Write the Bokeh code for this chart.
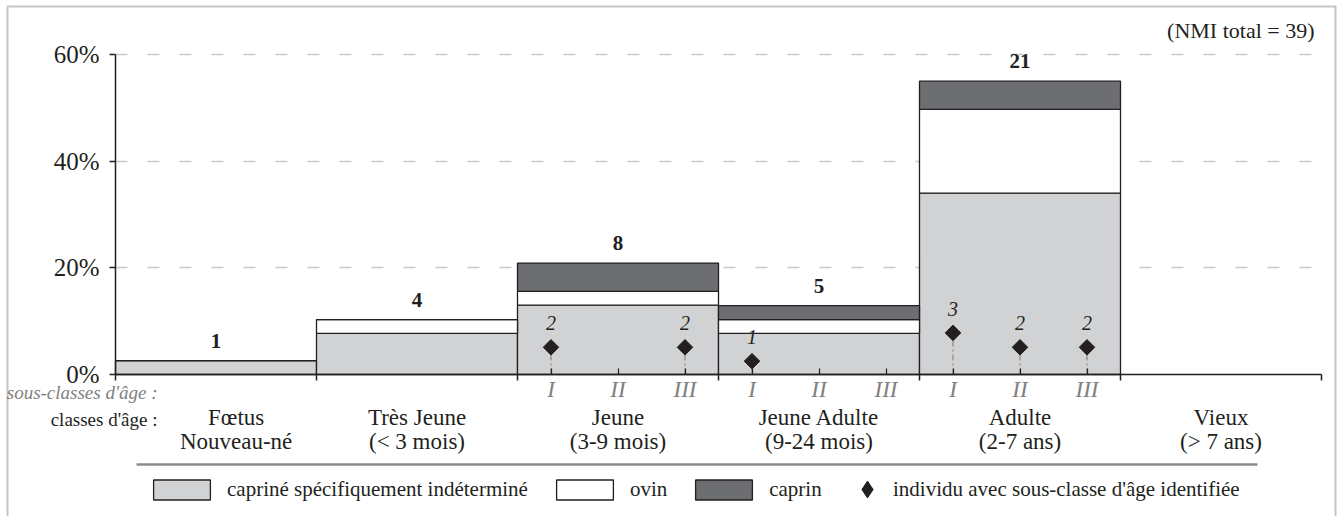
import math
from bokeh.plotting import figure
from bokeh.models import (Range1d, FixedTicker, PrintfTickFormatter, Label, Legend,
                          LegendItem, BoxAnnotation, Arrow, ColumnDataSource)
from bokeh.embed import file_html
from bokeh.resources import INLINE
from bokeh.core.properties import value

# ---------------- data ----------------
classes_line1 = ["Fœtus", "Très Jeune", "Jeune", "Jeune Adulte", "Adulte", "Vieux"]
classes_line2 = ["Nouveau-né", "(< 3 mois)", "(3-9 mois)", "(9-24 mois)", "(2-7 ans)", "(> 7 ans)"]
gray_pct = [2.6, 7.7, 13.0, 7.7, 34.0, 0.0]      # capriné spécifiquement indéterminé
ovin_pct = [0.0, 2.6, 2.6, 2.6, 15.7, 0.0]       # ovin
caprin_pct = [0.0, 0.0, 5.3, 2.6, 5.3, 0.0]      # caprin
class_counts = [1, 4, 8, 5, 21, 0]               # NMI per age class
nmi_total = 39

sub_labels = ["I", "II", "III"]
sub_classes_shown = [2, 3, 4]                    # classes with sub-classes
ind_class = [2, 2, 3, 4, 4, 4]                   # individuals with identified sub-class
ind_sub = [0, 2, 0, 0, 1, 2]
ind_count = [2, 2, 1, 3, 2, 2]
ind_pct = [5.1, 5.1, 2.5, 7.8, 5.1, 5.1]

y_ticks = [0, 20, 40, 60]
grid_ticks = [20, 40, 60]
legend_labels = ["capriné spécifiquement indéterminé", "ovin", "caprin",
                 "individu avec sous-classe d'âge identifiée"]

# ---------------- styling / layout ----------------
FONT = "Liberation Serif"
INK = "#231f20"
GRAY = "#d1d2d4"
DARK = "#6d6e71"
SUBGRAY = "#808080"

W, H = 1340, 516
AX_L, AX_R = 115, 1321            # x-axis extent (px)
AX_B, Y60 = 374, 54               # y of 0 % and 60 % (px)
UNIT = 6                          # x units per age class
NCLS = len(classes_line1)
XPX = (AX_R - AX_L) / (NCLS * UNIT)
YPX = (AX_B - Y60) / 60.0

def dx(px):
    return (px - AX_L) / XPX

def dy(py):
    return (AX_B - py) / YPX

p = figure(width=W, height=H, output_backend="svg", toolbar_location=None,
           x_range=Range1d(dx(0), dx(W)), y_range=Range1d(dy(H), dy(0)),
           min_border_left=0, min_border_right=0, min_border_top=0, min_border_bottom=0)
p.outline_line_color = None
p.background_fill_color = "white"
p.border_fill_color = "white"

# bars (only classes that have individuals)
centers = [UNIT * k + UNIT / 2 for k in range(NCLS)]
totals = [g + o + c for g, o, c in zip(gray_pct, ovin_pct, caprin_pct)]
keep = [k for k in range(NCLS) if totals[k] > 0]
src = ColumnDataSource(dict(x=[centers[k] for k in keep],
                            gray=[gray_pct[k] for k in keep],
                            ovin=[ovin_pct[k] for k in keep],
                            caprin=[caprin_pct[k] for k in keep]))
bars = p.vbar_stack(["gray", "ovin", "caprin"], x="x", width=UNIT, source=src,
                    fill_color=[GRAY, "white", DARK], line_color=INK, line_width=1.3)

# counts above bars
cx = [centers[i] for i in range(NCLS) if class_counts[i] > 0]
cy = [totals[i] for i in range(NCLS) if class_counts[i] > 0]
ct = [str(class_counts[i]) for i in range(NCLS) if class_counts[i] > 0]
p.text(x=cx, y=cy, text=ct, y_offset=-20, text_align="center", text_baseline="alphabetic",
       text_font=value(FONT), text_font_size="21px", text_font_style="bold", text_color=INK)

# individuals with sub-class
ind_x = [UNIT * c + 1 + 2 * s for c, s in zip(ind_class, ind_sub)]
p.segment(x0=ind_x, y0=[0] * len(ind_x), x1=ind_x, y1=ind_pct,
          line_color="#8a8a8a", line_width=1.2, line_dash="6 3 2 3")
p.scatter(x=ind_x, y=ind_pct, marker="square", angle=math.pi / 4, size=11,
          fill_color=INK, line_color=INK)
p.text(x=ind_x, y=ind_pct, text=[str(n) for n in ind_count], y_offset=-24,
       text_align="center", text_baseline="alphabetic", text_font=value(FONT),
       text_font_size="20px", text_font_style="italic", text_color=INK)
# legend glyph for the individuals (a point that is never on screen)
dia_leg = p.scatter(x=[float("nan")], y=[float("nan")], marker="diamond",
                    fill_color=INK, line_color=INK)

# y axis
yax = p.yaxis[0]
yax.fixed_location = 0
yax.ticker = FixedTicker(ticks=y_ticks)
yax.formatter = PrintfTickFormatter(format="%d%%")
yax.bounds = (0, 60)
yax.major_tick_out = 6
yax.major_tick_in = 0
yax.minor_tick_out = 0
yax.minor_tick_in = 0
yax.major_label_standoff = 10
yax.major_label_text_font = FONT
yax.major_label_text_font_size = "25px"
yax.major_label_text_color = INK
yax.axis_line_color = INK
yax.axis_line_width = 1.5
yax.major_tick_line_color = INK
yax.major_tick_line_width = 1.5

p.xgrid.visible = False
grid_done = False
try:
    p.ygrid.cross_bounds = (0, dx(1315))
    grid_done = True
except Exception:
    grid_done = False
if grid_done:
    p.ygrid.ticker = FixedTicker(ticks=grid_ticks)
    p.ygrid.grid_line_color = "#c8c8c8"
    p.ygrid.grid_line_width = 1.5
    p.ygrid.grid_line_dash = "12 20"
else:
    p.ygrid.visible = False
    p.segment(x0=[0] * len(grid_ticks), y0=grid_ticks, x1=[dx(1315)] * len(grid_ticks),
              y1=grid_ticks, line_color="#c8c8c8", line_width=1.5, line_dash="12 20",
              level="underlay")

# x axis: sub-class ticks (major) and class boundaries (minor)
sub_x = []
overrides = {}
for c in sub_classes_shown:
    for j, lab in enumerate(sub_labels):
        xv = UNIT * c + 1 + 2 * j
        sub_x.append(xv)
        overrides[xv] = lab
xax = p.xaxis[0]
xax.fixed_location = 0
xax.ticker = FixedTicker(ticks=sub_x, minor_ticks=[UNIT * k for k in range(NCLS + 1)])
xax.major_label_overrides = overrides
xax.bounds = (0, NCLS * UNIT)
xax.major_tick_in = 6
xax.major_tick_out = 0
xax.minor_tick_in = 0
xax.minor_tick_out = 6
xax.major_tick_line_color = INK
xax.minor_tick_line_color = INK
xax.major_tick_line_width = 1.2
xax.minor_tick_line_width = 1.5
xax.axis_line_color = INK
xax.axis_line_width = 1.5
xax.major_label_standoff = -4
xax.major_label_text_font = FONT
xax.major_label_text_font_size = "23px"
xax.major_label_text_font_style = "italic"
xax.major_label_text_color = SUBGRAY

# class labels
for k in range(NCLS):
    xc = centers[k] + (0.6 if k == 0 else 0.0)
    p.add_layout(Label(x=xc, y=dy(417), text=classes_line1[k], text_align="center",
                       text_baseline="alphabetic", text_font=FONT, text_font_size="23px",
                       text_color=INK))
    p.add_layout(Label(x=xc, y=dy(441), text=classes_line2[k], text_align="center",
                       text_baseline="alphabetic", text_font=FONT, text_font_size="23px",
                       text_color=INK))

p.add_layout(Label(x=dx(157), y=dy(392), text="sous-classes d'âge :", text_align="right",
                   text_baseline="alphabetic", text_font=FONT, text_font_size="19px",
                   text_font_style="italic", text_color=SUBGRAY))
p.add_layout(Label(x=dx(157), y=dy(419), text="classes d'âge :", text_align="right",
                   text_baseline="alphabetic", text_font=FONT, text_font_size="19px",
                   text_color=INK))
p.add_layout(Label(x=dx(1314), y=dy(30), text="(NMI total = %d)" % nmi_total, text_align="right",
                   text_baseline="alphabetic", text_font=FONT, text_font_size="22px",
                   text_color=INK))

# separator line
p.add_layout(Arrow(end=None, start=None, x_start=dx(136), y_start=dy(464), x_end=dx(1257),
                   y_end=dy(464), line_color="#8c8c8c", line_width=2.5))

# outer frame
p.add_layout(BoxAnnotation(left=dx(7), right=dx(1335), top=dy(6), bottom=dy(H + 30),
                           fill_color=None, fill_alpha=0, line_color="#3a3a3a", line_width=2))

# legends
common = dict(orientation="horizontal", padding=0, margin=0, border_line_color=None,
              background_fill_alpha=0, label_text_font=FONT, label_text_font_size="21px",
              label_text_color=INK, label_height=20)
leg1 = Legend(items=[LegendItem(label=legend_labels[i], renderers=[bars[i]]) for i in range(3)],
              location=(146, 14.5), glyph_width=71, glyph_height=25, spacing=21,
              label_standoff=10, **common)
leg2 = Legend(items=[LegendItem(label=legend_labels[3], renderers=[dia_leg])],
              location=(846, H - 510), glyph_width=42, glyph_height=42, spacing=0,
              label_standoff=5, **common)
p.add_layout(leg1)
p.add_layout(leg2)

open("out.html", "w").write(file_html(p, INLINE))
